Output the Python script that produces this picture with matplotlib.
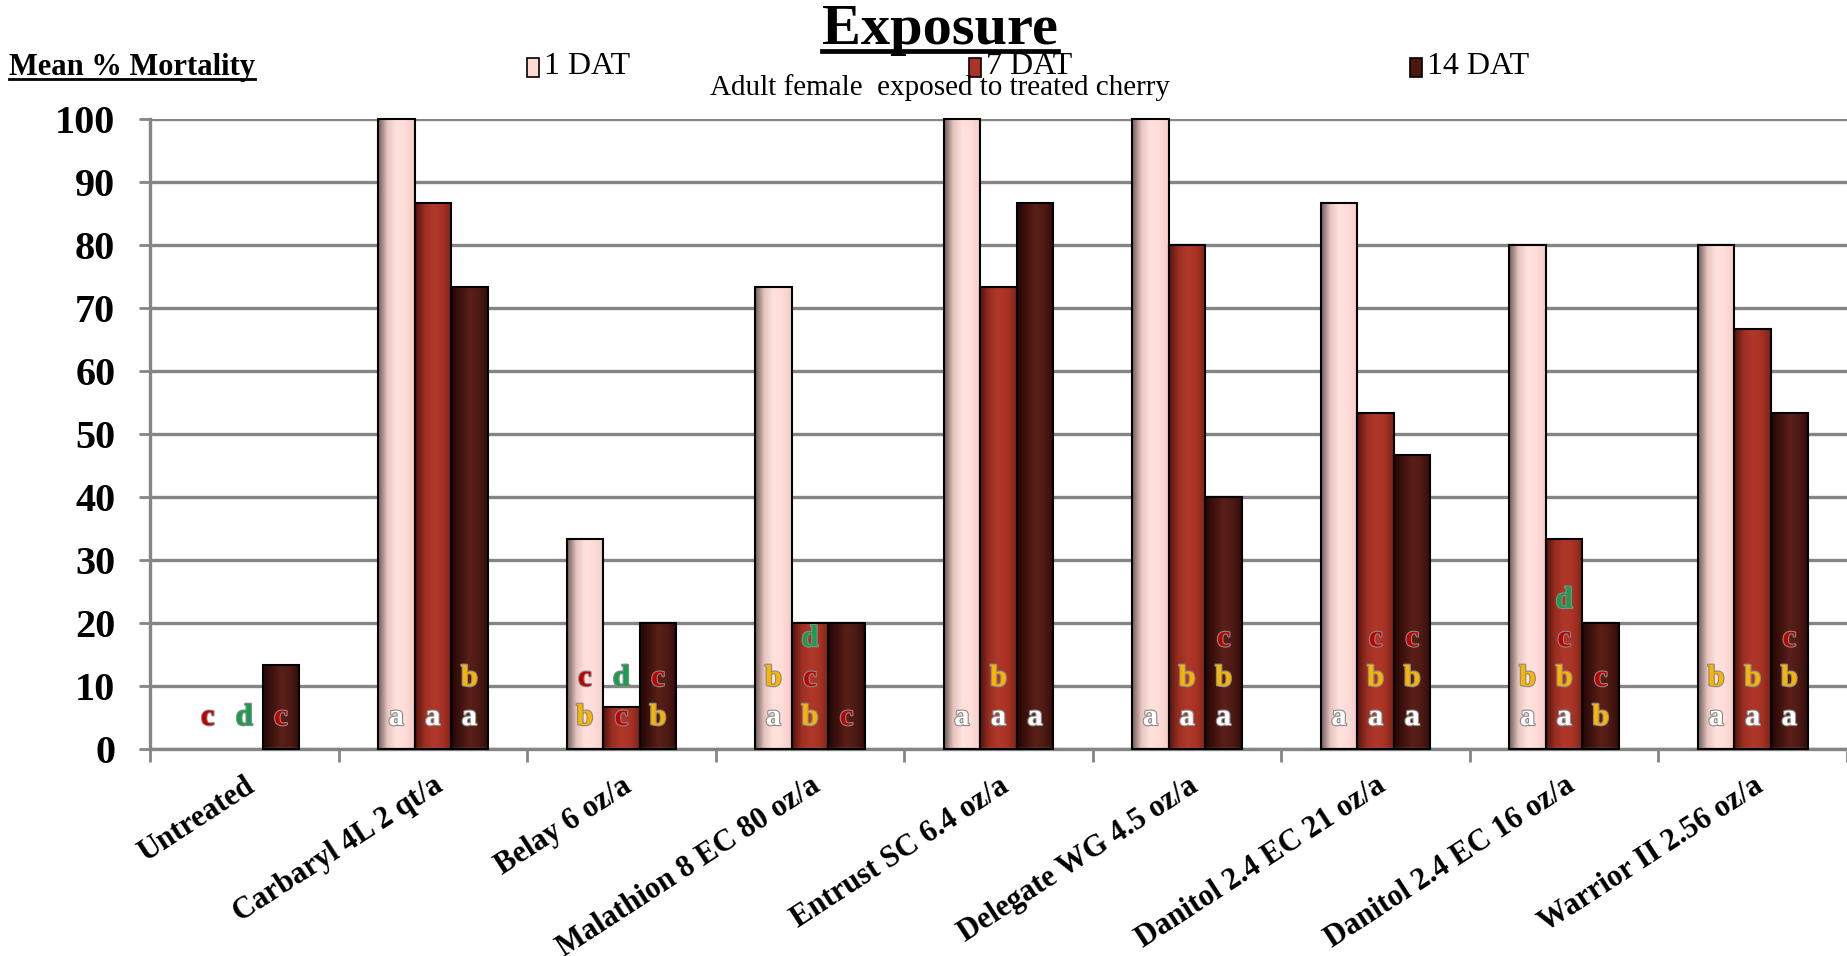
import numpy as np
import matplotlib
matplotlib.use('Agg')
import matplotlib.pyplot as plt
from matplotlib.colors import LinearSegmentedColormap
from matplotlib.patches import Rectangle
from matplotlib.lines import Line2D
import matplotlib.patheffects as pe

plt.rcParams['font.family'] = ['Liberation Serif', 'DejaVu Serif']

# data
treatments = ['Untreated', 'Carbaryl 4L 2 qt/a', 'Belay 6 oz/a', 'Malathion 8 EC 80 oz/a',
              'Entrust SC 6.4 oz/a', 'Delegate WG 4.5 oz/a', 'Danitol 2.4 EC 21 oz/a',
              'Danitol 2.4 EC 16 oz/a', 'Warrior II 2.56 oz/a']
series = ['1 DAT', '7 DAT', '14 DAT']
dat1 = [0, 100, 33.3, 73.3, 100, 100, 86.7, 80, 80]
dat7 = [0, 86.7, 6.7, 20, 73.3, 80, 53.3, 33.3, 66.7]
dat14 = [13.3, 73.3, 20, 20, 86.7, 40, 46.7, 20, 53.3]
# significance letters, bottom to top, one string per bar
let1 = ['c', 'a', 'bc', 'ab', 'a', 'a', 'a', 'ab', 'ab']
let7 = ['d', 'a', 'cd', 'bcd', 'ab', 'ab', 'abc', 'abcd', 'ab']
let14 = ['c', 'ab', 'bc', 'c', 'a', 'abc', 'abc', 'bc', 'abc']

base_colors = ['#ffd9d4', '#a93326', '#4e1812']
grads = [['#6e5c58', '#e8c4bf', '#ffe2de', '#ffdcd7', '#f4ccc7'],
         ['#55140d', '#9a2e22', '#b0382a', '#a83325', '#7e2419'],
         ['#240705', '#3f120d', '#5a1f18', '#4e1a14', '#330c09']]
letter_colors = {'a': '#ffffff', 'b': '#f7b500', 'c': '#c00000', 'd': '#16a04e'}
letter_levels = [5, 11.2, 17.5, 23.6]

W, H = 1847, 956
fig = plt.figure(figsize=(W / 100, H / 100), dpi=100)
ax = fig.add_axes([150 / W, 1 - 749 / H, 1697 / W, 630 / H])

x = np.arange(len(treatments))
bw = 0.194
offsets = [-bw, 0, bw]
vals = [dat1, dat7, dat14]
lets = [let1, let7, let14]

for s in range(3):
    cmap = LinearSegmentedColormap.from_list('g%d' % s, grads[s])
    edge_w = [1.5 if v > 0 else 0 for v in vals[s]]
    bars = ax.bar(x + offsets[s], vals[s], bw, color=base_colors[s], linewidth=0,
                  zorder=2, label=series[s])
    grad = np.linspace(0, 1, 64).reshape(1, -1)
    for b in bars:
        h = b.get_height()
        if h <= 0:
            continue
        x0 = b.get_x()
        im = ax.imshow(grad, cmap=cmap, aspect='auto', extent=[x0, x0 + bw, 0, h],
                       zorder=2.5, interpolation='bicubic')
        im.set_clip_path(b)
    ax.bar(x + offsets[s], vals[s], bw, color='none', edgecolor='black', linewidth=edge_w,
           zorder=3, clip_on=False)
    for i in range(len(treatments)):
        for k, ch in enumerate(lets[s][i]):
            ax.text(x[i] + offsets[s], letter_levels[k], ch, ha='center', va='center',
                    fontsize=22, fontweight='bold', color=letter_colors[ch], zorder=5,
                    path_effects=[pe.withStroke(linewidth=1.6, foreground='#8a8a8a')])

ax.set_xlim(-0.5, len(treatments) - 0.5)
ax.set_ylim(0, 100)
ax.set_aspect('auto')

ax.set_yticks(np.arange(0, 101, 10))
ax.yaxis.grid(True, color='#858585', linewidth=2.4, zorder=0)
ax.set_axisbelow(True)
ax.tick_params(axis='y', length=8, width=2, color='#858585', pad=17, labelsize=29)
for lab in ax.get_yticklabels():
    lab.set_fontweight('bold')

ax.set_xticks(x)
ax.set_xticklabels(treatments, rotation=33, ha='right', rotation_mode='anchor',
                   fontsize=22, fontweight='bold')
ax.tick_params(axis='x', which='major', length=0, pad=16)
ax.set_xticks(np.arange(-0.5, len(treatments), 1), minor=True)
ax.tick_params(axis='x', which='minor', length=9, width=2, color='#858585')

for side in ['top', 'right']:
    ax.spines[side].set_visible(False)
for side in ['left', 'bottom']:
    ax.spines[side].set_color('#858585')
    ax.spines[side].set_linewidth(2.4)

# titles
t1 = fig.text(940 / W, 1 - 44 / H, 'Exposure', ha='center', va='baseline', fontsize=42,
              fontweight='bold')
t2 = fig.text(940 / W, 1 - 88 / H, 'Adult female  exposed to treated cherry', ha='center',
              va='center', fontsize=21)
t3 = fig.text(9 / W, 1 - 67 / H, 'Mean % Mortality', ha='left', va='center', fontsize=22,
              fontweight='bold')

# legend entries
leg_x = [527, 969, 1410]
for s in range(3):
    fig.patches.append(Rectangle(((leg_x[s]) / W, 1 - 77 / H), 12 / W, 19 / H,
                                 facecolor=base_colors[s], edgecolor='black', linewidth=1.2,
                                 transform=fig.transFigure, figure=fig))
    fig.text((leg_x[s] + 17) / W, 1 - 66 / H, series[s], ha='left', va='center', fontsize=23)

# underline title and y label
fig.canvas.draw()
r = fig.canvas.get_renderer()
ul = [(t1, 3.4, H - 51), (t3, 2.0, None)]
for t, lw, ypix in ul:
    bb = t.get_window_extent(r)
    y = ypix if ypix is not None else bb.y0 + 3
    fig.lines.append(Line2D([bb.x0 / W, bb.x1 / W], [y / H, y / H], color='black',
                            linewidth=lw, transform=fig.transFigure, figure=fig))

fig.savefig('out.png', dpi=100)
